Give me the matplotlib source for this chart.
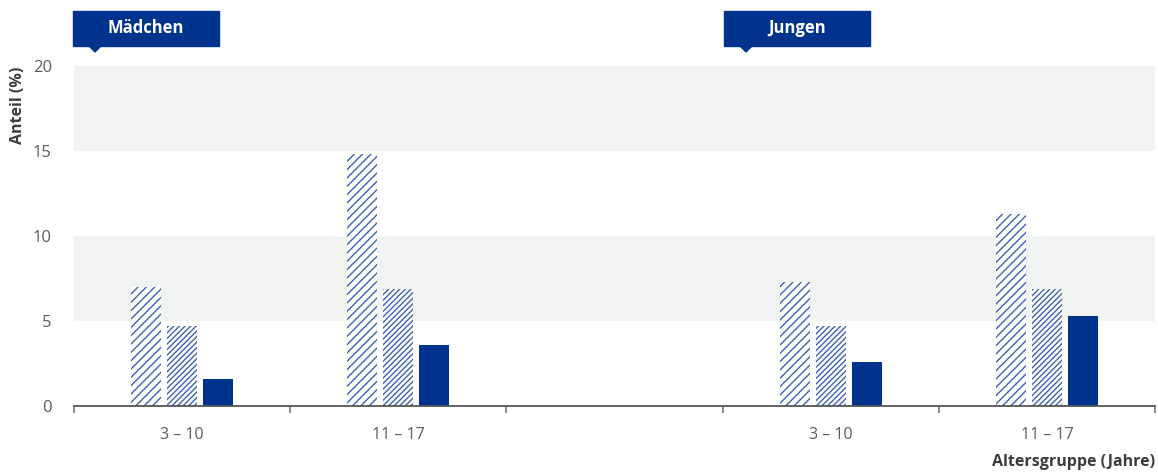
import numpy as np
import matplotlib.pyplot as plt
from matplotlib.patches import Rectangle, Polygon

# data
groups = ["3 – 10", "11 – 17", "", "3 – 10", "11 – 17"]
series_a = [7.0, 14.8, np.nan, 7.3, 11.3]   # sparse hatch
series_b = [4.7, 6.9, np.nan, 4.7, 6.9]     # dense hatch
series_c = [1.6, 3.6, np.nan, 2.6, 5.3]     # solid
panel_labels = ["Mädchen", "Jungen"]
yticks = [0, 5, 10, 15, 20]

navy = "#00338d"
hatch_blue = "#3a62b0"
band = "#f1f2f2"
txt = "#5a5a5a"

plt.rcParams['font.family'] = ['Open Sans', 'DejaVu Sans']
plt.rcParams['hatch.linewidth'] = 1.0

fig = plt.figure(figsize=(11.58, 4.72), dpi=100)
ax = fig.add_axes([74 / 1158, 66 / 472, 1081 / 1158, 340 / 472])

# grey bands 5-10 and 15-20
for lo in (5, 15):
    ax.axhspan(lo, lo + 5, color=band, lw=0, zorder=0)

x = np.arange(len(groups))
w = 30 / 216
off = 36 / 216
ax.bar(x - off, series_a, w, facecolor="white", edgecolor=hatch_blue,
       hatch="////", linewidth=0, zorder=2)
ax.bar(x, series_b, w, facecolor="white", edgecolor=hatch_blue,
       hatch="//////", linewidth=0, zorder=2)
ax.bar(x + off, series_c, w, color=navy, linewidth=0, zorder=2)

ax.set_xlim(-0.5, len(groups) - 0.5)
ax.set_ylim(0, 20)
ax.set_yticks(yticks)
ax.set_xticks([i for i, g in enumerate(groups) if g])
ax.set_xticklabels([g for g in groups if g])
ax.set_xticks(np.arange(-0.5, len(groups)), minor=True)
ax.tick_params(axis='x', which='major', length=0, pad=15, labelsize=11.5, labelcolor=txt)
ax.tick_params(axis='x', which='minor', length=5, width=1.2, color="#777777")
ax.tick_params(axis='y', length=0, pad=16, labelsize=12, labelcolor=txt)

for s in ("top", "right", "left"):
    ax.spines[s].set_visible(False)
ax.spines["bottom"].set_color("#555555")
ax.spines["bottom"].set_linewidth(1.3)
ax.spines["bottom"].set_zorder(3)

fig.text(18 / 1158, 1 - 105 / 472, "Anteil (%)", rotation=90, ha="center", va="center",
         fontsize=11.5, fontweight="bold", color="#3c3c3c")
fig.text(1155 / 1158, 1 - 462 / 472, "Altersgruppe (Jahre)", ha="right", va="center",
         fontsize=11.5, fontweight="bold", color="#3c3c3c")

# panel header boxes with small pointer
W, H = 1158, 472
for x0, lab in zip((73, 724), panel_labels):
    fig.patches.append(Rectangle((x0 / W, 1 - 46 / H), 146 / W, 35 / H,
                                 transform=fig.transFigure, color=navy))
    fig.patches.append(Polygon([((x0 + 16) / W, 1 - 46 / H), ((x0 + 28) / W, 1 - 46 / H),
                                ((x0 + 22) / W, 1 - 52 / H)],
                               transform=fig.transFigure, color=navy))
    fig.text((x0 + 73) / W, 1 - 28 / H, lab, ha="center", va="center",
             fontsize=12, fontweight="bold", color="white")

fig.savefig("out.png", dpi=100)
